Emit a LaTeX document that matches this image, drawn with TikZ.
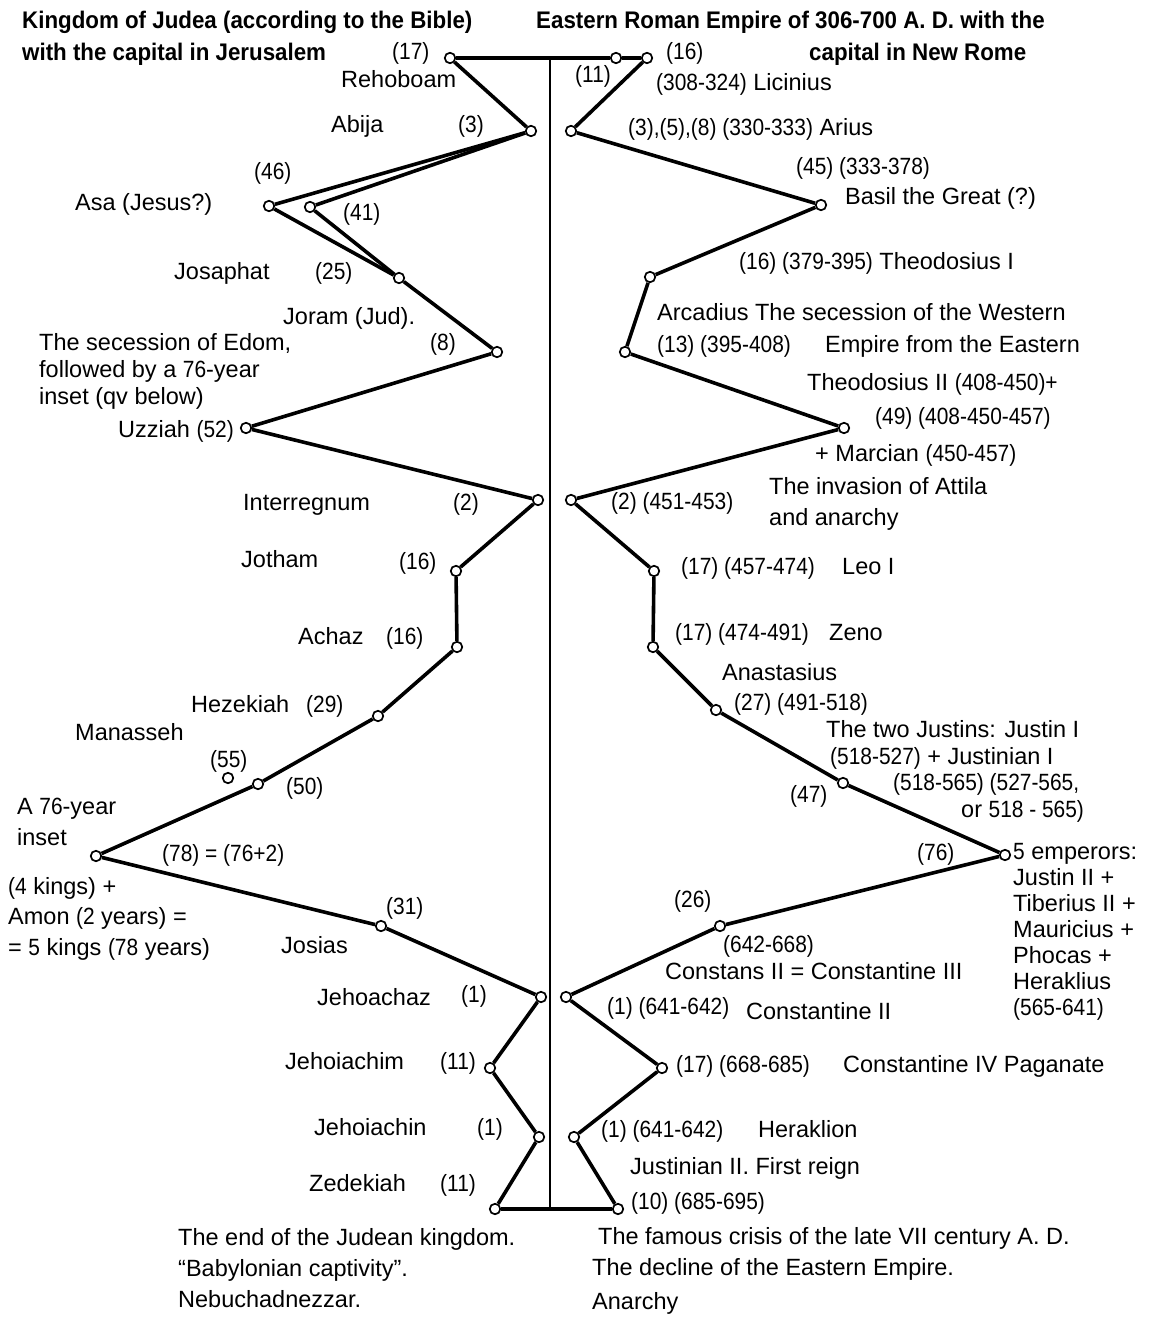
\documentclass[tikz,border=0pt]{standalone}
\usepackage{fontspec}
\setmainfont{Liberation Sans}
\newfontfamily\numfont[FakeStretch=0.89]{Liberation Sans}
\newfontfamily\ttlfont[FakeStretch=0.93]{Liberation Sans}
\newcommand\numtxt[1]{{\numfont #1}}
\begin{document}
\begin{tikzpicture}[x=1pt,y=-1pt,
  every node/.style={font=\fontsize{23.5}{26}\selectfont},
  dot/.style={circle,draw,fill=white,line width=1.7pt,minimum size=10.5pt,inner sep=0pt},
  lbl/.style={anchor=base west,inner sep=0pt},
  nlbl/.style={anchor=base west,inner sep=0pt,font=\fontsize{23.5}{26}\numfont},
  blk/.style={anchor=north west,inner sep=0pt,align=left},
  ttl/.style={anchor=base west,inner sep=0pt,font=\fontsize{24}{26}\ttlfont\bfseries},
  chain/.style={line width=3.6pt,line join=round},
  axis/.style={line width=1.4pt}]
\useasboundingbox (0,0) rectangle (1155,1317);

% titles
\node[ttl] (t1) at (22,28) {Kingdom of Judea (according to the Bible)};
\node[ttl] (t2) at (22,60) {with the capital in Jerusalem};
\node[ttl] (t3) at (536,28) {Eastern Roman Empire of 306-700 A. D. with the};
\node[ttl] (t4) at (809,60) {capital in New Rome};

% central axis
\coordinate (ctop) at (550,58);
\coordinate (cbot) at (550,1209);
\draw[axis] (ctop) -- (cbot);

% left nodes
\node[dot] (reh) at (450,58) {};
\node[dot] (abija) at (531,131) {};
\node[dot] (asa) at (269,206) {};
\node[dot] (asa2) at (310,207) {};
\node[dot] (josaphat) at (399,278) {};
\node[dot] (joram) at (497,352) {};
\node[dot] (uzziah) at (246,428) {};
\node[dot] (interr) at (538,500) {};
\node[dot] (jotham) at (456,571) {};
\node[dot] (achaz) at (457,647) {};
\node[dot] (hezek) at (378,716) {};
\node[dot] (manas) at (258,784) {};
\node[dot] (n55) at (228,778) {};
\node[dot] (inset) at (96,856) {};
\node[dot] (josias) at (381,926) {};
\node[dot] (jehoachaz) at (541,997) {};
\node[dot] (jehoiachim) at (490,1068) {};
\node[dot] (jehoiachin) at (539,1137) {};
\node[dot] (zedek) at (495,1209) {};

% right nodes
\node[dot] (r0) at (616,58) {};
\node[dot] (licin) at (647,58) {};
\node[dot] (arius) at (571,131) {};
\node[dot] (basil) at (821,205) {};
\node[dot] (theo1) at (650,277) {};
\node[dot] (arcad) at (625,352) {};
\node[dot] (theo2) at (844,428) {};
\node[dot] (attila) at (571,500) {};
\node[dot] (leo) at (654,571) {};
\node[dot] (zeno) at (653,647) {};
\node[dot] (anast) at (716,710) {};
\node[dot] (justins) at (843,783) {};
\node[dot] (five) at (1005,855) {};
\node[dot] (constans) at (720,926) {};
\node[dot] (const2) at (566,997) {};
\node[dot] (const4) at (662,1068) {};
\node[dot] (herak) at (574,1137) {};
\node[dot] (just2) at (618,1209) {};

% connectors
\draw[chain] (reh) -- (r0);
\draw[chain] (r0) -- (licin);
\draw[chain] (reh) -- (abija);
\draw[chain] (abija) -- (asa);
\draw[chain] (abija) -- (asa2);
\draw[chain] (asa) -- (josaphat);
\draw[chain] (asa2) -- (josaphat);
\draw[chain] (josaphat) -- (joram);
\draw[chain] (joram) -- (uzziah);
\draw[chain] (uzziah) -- (interr);
\draw[chain] (interr) -- (jotham);
\draw[chain] (jotham) -- (achaz);
\draw[chain] (achaz) -- (hezek);
\draw[chain] (hezek) -- (manas);
\draw[chain] (manas) -- (inset);
\draw[chain] (inset) -- (josias);
\draw[chain] (josias) -- (jehoachaz);
\draw[chain] (jehoachaz) -- (jehoiachim);
\draw[chain] (jehoiachim) -- (jehoiachin);
\draw[chain] (jehoiachin) -- (zedek);
\draw[chain] (zedek) -- (just2);

\draw[chain] (licin) -- (arius);
\draw[chain] (arius) -- (basil);
\draw[chain] (basil) -- (theo1);
\draw[chain] (theo1) -- (arcad);
\draw[chain] (arcad) -- (theo2);
\draw[chain] (theo2) -- (attila);
\draw[chain] (attila) -- (leo);
\draw[chain] (leo) -- (zeno);
\draw[chain] (zeno) -- (anast);
\draw[chain] (anast) -- (justins);
\draw[chain] (justins) -- (five);
\draw[chain] (five) -- (constans);
\draw[chain] (constans) -- (const2);
\draw[chain] (const2) -- (const4);
\draw[chain] (const4) -- (herak);
\draw[chain] (herak) -- (just2);

% left labels
\node[nlbl] (l17) at (392,59) {(17)};
\node[lbl] (lreh) at (341,87) {Rehoboam};
\node[lbl] (labija) at (331,132) {Abija};
\node[nlbl] (l3) at (458,132) {(3)};
\node[nlbl] (l46) at (254,179) {(46)};
\node[lbl] (lasa) at (75,210) {Asa (Jesus?)};
\node[nlbl] (l41) at (343,220) {(41)};
\node[lbl] (ljos) at (174,279) {Josaphat};
\node[nlbl] (l25) at (315,279) {(25)};
\node[lbl] (ljoram) at (283,324) {Joram (Jud).};
\node[nlbl] (l8) at (430,350) {(8)};
\node[blk,font=\fontsize{23.5}{27}\selectfont] (ledom) at (39,333) {The secession of Edom,\\followed by a \numtxt{76}-year\\inset (qv below)};
\node[lbl] (luzz) at (118,437) {Uzziah \numtxt{(52)}};
\node[lbl] (linterr) at (243,510) {Interregnum};
\node[nlbl] (l2) at (453,510) {(2)};
\node[lbl] (ljotham) at (241,567) {Jotham};
\node[nlbl] (l16a) at (399,569) {(16)};
\node[lbl] (lachaz) at (298,644) {Achaz};
\node[nlbl] (l16b) at (386,644) {(16)};
\node[lbl] (lhez) at (191,712) {Hezekiah};
\node[nlbl] (l29) at (306,712) {(29)};
\node[lbl] (lmanas) at (75,740) {Manasseh};
\node[nlbl] (l55) at (210,767) {(55)};
\node[nlbl] (l50) at (286,794) {(50)};
\node[blk,font=\fontsize{23.5}{31}\selectfont] (linset) at (17,798) {A \numtxt{76}-year\\inset};
\node[nlbl] (l78) at (162,861) {(78) = (76+2)};
\node[blk,font=\fontsize{23.5}{30.5}\selectfont] (lkings) at (8,877) {\numtxt{(4} kings) +\\Amon \numtxt{(2} years) =\\= \numtxt{5} kings \numtxt{(78} years)};
\node[nlbl] (l31) at (386,914) {(31)};
\node[lbl] (ljosias) at (281,953) {Josias};
\node[lbl] (ljehoachaz) at (317,1005) {Jehoachaz};
\node[nlbl] (l1a) at (461,1002) {(1)};
\node[lbl] (ljehoiachim) at (285,1069) {Jehoiachim};
\node[nlbl] (l11a) at (440,1069) {(11)};
\node[lbl] (ljehoiachin) at (314,1135) {Jehoiachin};
\node[nlbl] (l1b) at (477,1135) {(1)};
\node[lbl] (lzed) at (309,1191) {Zedekiah};
\node[nlbl] (l11b) at (440,1191) {(11)};
\node[blk,font=\fontsize{23.5}{31}\selectfont] (lend) at (178,1228) {The end of the Judean kingdom.\\“Babylonian captivity”.\\Nebuchadnezzar.};

% right labels
\node[nlbl] (r16) at (666,59) {(16)};
\node[nlbl] (r11) at (575,82) {(11)};
\node[lbl] (rlicin) at (656,90) {\numtxt{(308-324)} Licinius};
\node[lbl] (rarius) at (628,135) {\numtxt{(3),(5),(8) (330-333)} Arius};
\node[nlbl] (r45) at (796,174) {(45) (333-378)};
\node[lbl] (rbasil) at (845,204) {Basil the Great (?)};
\node[lbl] (rtheo1) at (739,269) {\numtxt{(16) (379-395)} Theodosius I};
\node[lbl] (rarcad) at (657,320) {Arcadius The secession of the Western};
\node[nlbl] (r13) at (657,352) {(13) (395-408)};
\node[lbl] (rempire) at (825,352) {Empire from the Eastern};
\node[lbl] (rtheo2) at (807,390) {Theodosius II \numtxt{(408-450)+}};
\node[nlbl] (r49) at (875,424) {(49) (408-450-457)};
\node[lbl] (rmarc) at (815,461) {+ Marcian \numtxt{(450-457)}};
\node[blk,font=\fontsize{23.5}{31}\selectfont] (rattila) at (769,477) {The invasion of Attila\\and anarchy};
\node[nlbl] (r2) at (611,509) {(2) (451-453)};
\node[nlbl] (r17a) at (681,574) {(17) (457-474)};
\node[lbl] (rleo) at (842,574) {Leo I};
\node[nlbl] (r17b) at (675,640) {(17) (474-491)};
\node[lbl] (rzeno) at (829,640) {Zeno};
\node[lbl] (ranast) at (722,680) {Anastasius};
\node[nlbl] (r27) at (734,710) {(27) (491-518)};
\node[lbl] (rjus1) at (826,737) {The two Justins: Justin I};
\node[lbl] (rjus2) at (830,764) {\numtxt{(518-527)} + Justinian I};
\node[nlbl] (rjus3) at (893,790) {(518-565) (527-565,};
\node[lbl] (rjus4) at (961,817) {or \numtxt{518 - 565)}};
\node[nlbl] (r47) at (790,802) {(47)};
\node[nlbl] (r76) at (917,860) {(76)};
\node[blk,font=\fontsize{23.5}{26}\selectfont] (rfive) at (1013,843) {\numtxt{5} emperors:\\Justin II +\\Tiberius II +\\Mauricius +\\Phocas +\\Heraklius\\\numtxt{(565-641)}};
\node[nlbl] (r26) at (674,907) {(26)};
\node[nlbl] (r642) at (723,952) {(642-668)};
\node[lbl] (rconstans) at (665,979) {Constans II = Constantine III};
\node[nlbl] (r1a) at (607,1014) {(1) (641-642)};
\node[lbl] (rconst2) at (746,1019) {Constantine II};
\node[nlbl] (r17c) at (676,1072) {(17) (668-685)};
\node[lbl] (rconst4) at (843,1072) {Constantine IV Paganate};
\node[nlbl] (r1b) at (601,1137) {(1) (641-642)};
\node[lbl] (rherak) at (758,1137) {Heraklion};
\node[lbl] (rjust2) at (630,1174) {Justinian II. First reign};
\node[nlbl] (r10) at (631,1209) {(10) (685-695)};
\node[lbl] (rcrisis) at (598,1244) {The famous crisis of the late VII century A. D.};
\node[lbl] (rdecl) at (592,1275) {The decline of the Eastern Empire.};
\node[lbl] (ranar) at (592,1309) {Anarchy};
\end{tikzpicture}
\end{document}
